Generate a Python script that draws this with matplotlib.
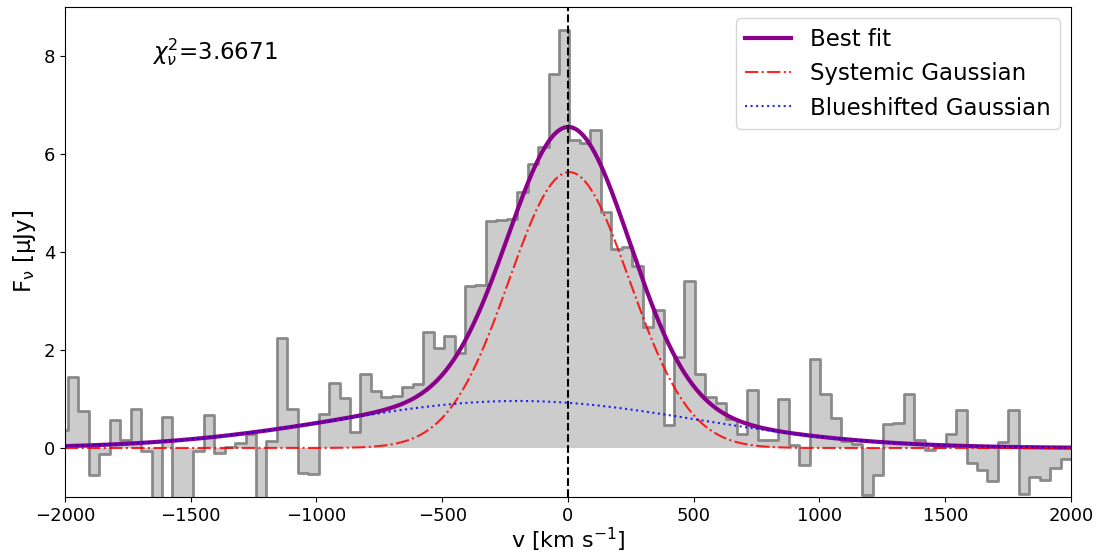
import numpy as np
import matplotlib as mpl
mpl.use('Agg')
import matplotlib.pyplot as plt

# spectrum channels (uniform velocity grid)
v_first_edge = -2030.0
dv = 41.55
flux = [0.36, 1.44, 0.76, -0.56, -0.12, 0.57, 0.16, 0.80, -0.06, -1.6,
        0.63, -1.8, -1.4, -0.06, 0.67, -0.10, 0.03, 0.10, 0.29, -1.5,
        0.14, 2.25, 0.80, -0.51, -0.54, 0.70, 1.33, 1.02, 0.33, 1.52,
        1.16, 1.04, 1.06, 1.25, 1.31, 2.37, 2.04, 2.29, 1.93, 3.31,
        3.33, 4.63, 4.65, 4.68, 5.22, 5.79, 6.14, 7.63, 8.52, 6.28,
        6.22, 6.48, 4.82, 4.07, 4.10, 3.71, 2.47, 2.82, 0.46, 1.86,
        3.41, 1.52, 1.05, 0.91, 0.60, 0.28, 1.19, 0.16, 0.16, 1.01,
        0.07, -0.35, 1.82, 1.10, 0.62, 0.14, 0.08, -0.96, -0.56, 0.48,
        0.51, 1.10, 0.17, -0.05, 0.02, 0.28, 0.78, -0.31, -0.44, -0.68,
        0.12, 0.78, -0.93, -0.60, -0.65, -0.41, -0.22]

# fit parameters
sys_amp, sys_cen, sys_sig = 5.63, 5.0, 240.0
blue_amp, blue_cen, blue_sig = 0.96, -200.0, 710.0
chi2_red = 3.6671


def gauss(x, a, c, s):
    return a*np.exp(-(x - c)**2/(2*s**2))


edges = v_first_edge + dv*np.arange(len(flux) + 1)
fstep = np.append(flux, flux[-1])

v = np.linspace(-2000, 2000, 1000)
g_sys = gauss(v, sys_amp, sys_cen, sys_sig)
g_blue = gauss(v, blue_amp, blue_cen, blue_sig)

fig = plt.figure(figsize=(10.98, 5.58), dpi=100)
ax = fig.add_axes([0.0592, 0.1093, 0.9162, 0.8782])

ax.fill_between(edges, fstep, step='post', color='0.8', lw=0)
ax.step(edges, fstep, where='post', color='gray', lw=2, alpha=0.9)
ax.plot(v, g_sys + g_blue, color='darkmagenta', lw=3, label='Best fit')
ax.plot(v, g_sys, color='red', ls='-.', lw=1.5, alpha=0.85, label='Systemic Gaussian')
ax.plot(v, g_blue, color='blue', ls=':', lw=1.5, alpha=0.85, label='Blueshifted Gaussian')
ax.axvline(0, color='black', ls='--', lw=1.5)

ax.text(0.0865, 0.908, r'$\chi^2_\nu$=%.4f' % chi2_red, transform=ax.transAxes,
        fontsize=16.5, ha='left', va='center')

ax.set_xlim(-2000, 2000)
ax.set_ylim(-1, 9)
ax.set_xlabel(r'v [km s$^{-1}$]', fontsize=16, labelpad=1)
ax.set_ylabel(r'F$_{\mathrm{\nu}}$ [μJy]', fontsize=16.5)
ax.tick_params(labelsize=13)
ax.legend(loc='upper right', fontsize=16.5)

plt.savefig('out.png', dpi=100)
